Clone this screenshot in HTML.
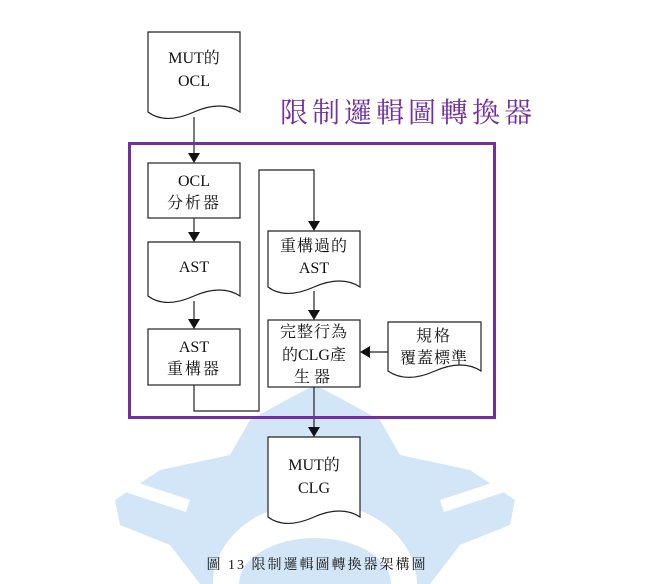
<!DOCTYPE html>
<html><head><meta charset="utf-8"><style>
html,body{margin:0;padding:0;background:#fff;width:645px;height:584px;overflow:hidden;}
svg{display:block;}
text{font-family:"Liberation Serif","Noto Serif CJK SC","Noto Sans CJK TC",serif;fill:#111;}
</style></head><body>
<svg width="645" height="584" viewBox="0 0 645 584" xmlns="http://www.w3.org/2000/svg">
<defs><clipPath id="c"><rect x="0" y="0" width="645" height="584"/></clipPath></defs>
<g stroke="none" clip-path="url(#c)">
<path fill="#d3e6f8" d="M115 500 L160 470 L230 455 L250 420 L290 398 L315 385 L340 398 L380 420 L400 455 L470 470 L515 500 L510 525 L460 545 L430 584 L200 584 L170 545 L120 525 Z"/>
<polygon fill="#fff" points="120,477 190,500 186,512 116,489"/>
<polygon fill="#fff" points="510,477 440,500 444,512 514,489"/>
<path fill="#fff" d="M273 500 Q315 455 360 500 Z"/>
<path fill="#fff" d="M213 584 A102 82 0 0 1 417 584 Z"/>
<path fill="#d3e6f8" d="M239 584 A76 46 0 0 1 391 584 Z"/>
</g>
<g fill="none" stroke="#222" stroke-width="1.2">
<path d="M148 32 H240 V112 C228 104 212 104 194 112 C176 120 160 121 148 112 Z" fill="#fff"/>
<rect x="148" y="163" width="92" height="55" fill="#fff"/>
<path d="M148 242 H240 V296 C228 288 212 288 194 296 C176 304 160 305 148 296 Z" fill="#fff"/>
<rect x="148" y="329" width="92" height="56" fill="#fff"/>
<path d="M268 231 H360 V287 C348 279 332 279 314 287 C296 295 280 296 268 287 Z" fill="#fff"/>
<rect x="268" y="320" width="92" height="67" fill="#fff"/>
<path d="M388 322 H481 V371 C469 363 453 363 435 371 C417 379 401 380 388 371 Z" fill="#fff"/>
<path d="M268 437 H360 V517 C348 509 332 509 314 517 C296 525 280 526 268 517 Z" fill="#fff"/>
<line x1="194" y1="117" x2="194" y2="155"/>
<line x1="194" y1="218" x2="194" y2="234"/>
<line x1="194" y1="301" x2="194" y2="321"/>
<polyline points="194,385 194,411 259,411 259,170 314,170 314,223"/>
<line x1="314" y1="291" x2="314" y2="312"/>
<line x1="388" y1="352" x2="368" y2="352"/>
<line x1="314" y1="387" x2="314" y2="429"/>
</g>
<g fill="#111">
<polygon points="188,153 200,153 194,163"/>
<polygon points="188,232 200,232 194,242"/>
<polygon points="188,319 200,319 194,329"/>
<polygon points="308,221 320,221 314,231"/>
<polygon points="308,310 320,310 314,320"/>
<polygon points="370,346 370,358 360,352"/>
<polygon points="308,427 320,427 314,437"/>
</g>
<rect x="129.5" y="143.5" width="365" height="274" fill="none" stroke="#7030a0" stroke-width="3"/>
<text x="408" y="122" font-size="28" text-anchor="middle" style="fill:#7030a0;letter-spacing:4px">限制邏輯圖轉換器</text>
<g font-size="16" text-anchor="middle">
<text x="194" y="63">MUT的</text>
<text x="194" y="86">OCL</text>
<text x="194" y="186">OCL</text>
<text x="194" y="208" style="letter-spacing:2px">分析器</text>
<text x="194" y="272">AST</text>
<text x="194" y="352">AST</text>
<text x="194" y="374" style="letter-spacing:2px">重構器</text>
<text x="314" y="251" style="letter-spacing:1px">重構過的</text>
<text x="314" y="273">AST</text>
<text x="314" y="337" style="letter-spacing:1px">完整行為</text>
<text x="314" y="360">的CLG產</text>
<text x="314" y="382" style="letter-spacing:4px">生器</text>
<text x="434" y="341" style="letter-spacing:2px">規格</text>
<text x="434" y="363" style="letter-spacing:1px">覆蓋標準</text>
<text x="314" y="470">MUT的</text>
<text x="314" y="493">CLG</text>
</g>
<text x="317" y="569" font-size="14" text-anchor="middle" style="letter-spacing:2px">圖 13 限制邏輯圖轉換器架構圖</text>
</svg>
</body></html>
